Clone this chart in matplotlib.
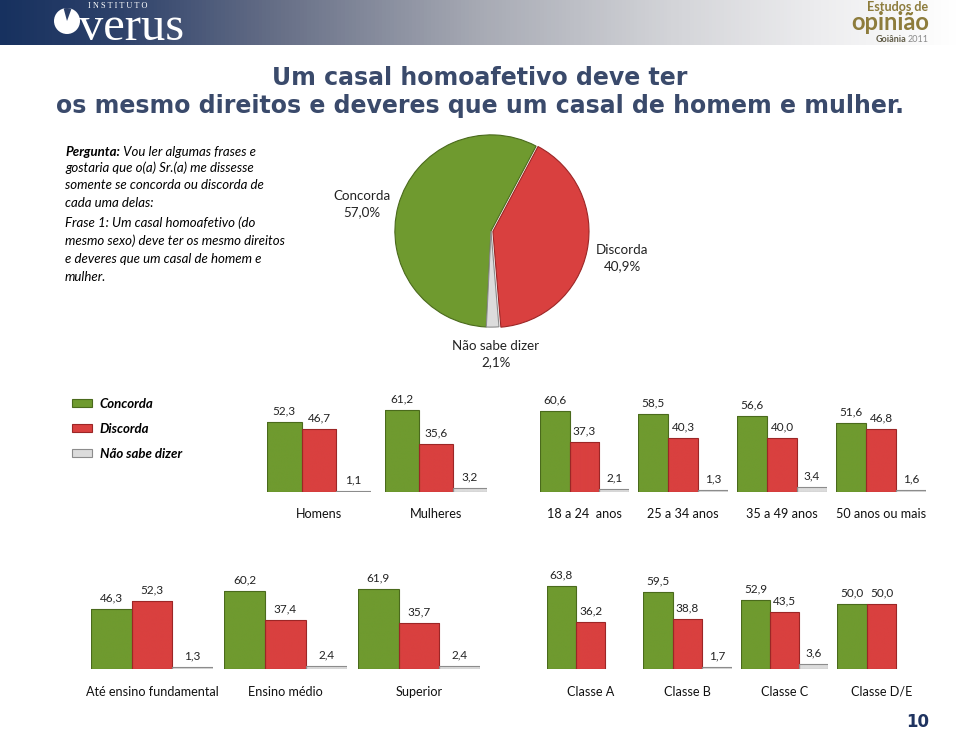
import numpy as np
import matplotlib
matplotlib.use('Agg')
import matplotlib.pyplot as plt
from matplotlib.colors import LinearSegmentedColormap
from matplotlib.patches import Patch, Circle, Wedge

plt.rcParams['font.family'] = ['Lato', 'DejaVu Sans']

# ---- dados ----
series = ['Concorda', 'Discorda', 'Não sabe dizer']
pie_vals = [57.0, 40.9, 2.1]

groups1 = ['Homens', 'Mulheres', '18 a 24  anos', '25 a 34 anos', '35 a 49 anos', '50 anos ou mais']
concorda1 = [52.3, 61.2, 60.6, 58.5, 56.6, 51.6]
discorda1 = [46.7, 35.6, 37.3, 40.3, 40.0, 46.8]
nsd1 = [1.1, 3.2, 2.1, 1.3, 3.4, 1.6]

groups2 = ['Até ensino fundamental', 'Ensino médio', 'Superior', 'Classe A', 'Classe B', 'Classe C', 'Classe D/E']
concorda2 = [46.3, 60.2, 61.9, 63.8, 59.5, 52.9, 50.0]
discorda2 = [52.3, 37.4, 35.7, 36.2, 38.8, 43.5, 50.0]
nsd2 = [1.3, 2.4, 2.4, 0.0, 1.7, 3.6, 0.0]

# ---- layout (pixels) ----
W, H = 960, 732
GREEN, RED, GREY = '#6f9a2f', '#d9403f', '#dcdcdc'
EDGES = ['#4a6a1c', '#9c2626', '#8c8c8c']
NAVY = '#3a4a6b'

# (left, right) of each small chart
row1_x = [(267, 371), (385, 487), (540, 629), (638, 728), (737, 827), (836, 926)]
row2_x = [(91, 213), (224, 347), (358, 480), (547, 634), (643, 732), (741, 828), (837, 926)]
row1_base, row1_scale = 492, 1.34
row2_base, row2_scale = 669, 1.30


def fmt(v):
    return f'{v:.1f}'.replace('.', ',')


fig = plt.figure(figsize=(W / 100, H / 100), dpi=100)
bg = fig.add_axes([0, 0, 1, 1])
bg.axis('off')

# header band
hdr = LinearSegmentedColormap.from_list(
    'hdr', [(0, '#17315f'), (0.12, '#2d416a'), (0.3, '#6a7289'), (0.5, '#a7aab4'),
            (0.7, '#d3d4d8'), (0.85, '#ececee'), (1, '#ffffff')])
bg.imshow(np.linspace(0, 1, 256)[None, :], cmap=hdr, extent=(0, W, 45, 0), aspect='auto')
bg.set_xlim(0, W)
bg.set_ylim(H, 0)
bg.add_patch(Circle((67, 21), 13, fc='white', ec='none'))
bg.add_patch(Wedge((67, 21), 13, 255, 290, fc='#2b3f68', ec='none'))
bg.text(88, 6, 'I N S T I T U T O', family='Liberation Serif', fontsize=6,
        color='white', va='center')
bg.text(79, 28, 'verus', family='Liberation Serif', fontsize=35, color='white', va='center')
bg.text(928, 7, 'Estudos de', fontsize=9, fontweight='bold', color='#8d7c3c',
        ha='right', va='center')
bg.text(929, 23, 'opinião', fontsize=17, fontweight='bold', color='#8d7c3c',
        ha='right', va='center')
bg.text(906, 40, 'Goiânia', fontsize=6.5, fontweight='bold', color='#5f5a45',
        ha='right', va='center')
bg.text(908, 40, '2011', fontsize=6.5, color='#8a8a8a', ha='left', va='center')

# title
bg.text(480, 78, 'Um casal homoafetivo deve ter', family='DejaVu Sans', fontsize=17.0,
        fontweight='bold', color=NAVY, ha='center', va='center')
bg.text(480, 106, 'os mesmo direitos e deveres que um casal de homem e mulher.',
        family='DejaVu Sans', fontsize=17.0, fontweight='bold', color=NAVY,
        ha='center', va='center')

# question text
t = bg.text(65, 152, 'Pergunta:', fontsize=9.5, fontweight='bold', style='italic', va='center')
bg.annotate(' Vou ler algumas frases e', xy=(1, 0.5), xycoords=t, fontsize=9.5,
            style='italic', va='center')
bg.text(65, 161, 'gostaria que o(a) Sr.(a) me dissesse\nsomente se concorda ou discorda de\ncada uma delas:',
        fontsize=9.5, style='italic', va='top', linespacing=1.58)
bg.text(65, 216, 'Frase 1: Um casal homoafetivo (do\nmesmo sexo) deve ter os mesmo direitos\ne deveres que um casal de homem e\nmulher.',
        fontsize=9.5, style='italic', va='top', linespacing=1.58)

# pie
pax = fig.add_axes([392 / W, 1 - 330 / H, 198 / W, 198 / H])
wedges, _ = pax.pie(pie_vals, colors=[GREEN, RED, GREY], startangle=267.2,
                    counterclock=False, explode=(0, 0.02, 0.0),
                    wedgeprops=dict(linewidth=0.8))
for w, ec in zip(wedges, EDGES):
    w.set_edgecolor(ec)
pax.set_xlim(-1.03, 1.03)
pax.set_ylim(-1.03, 1.03)
pie_lbl = [(362, 204), (622, 258), (496, 354)]
for (x, y), name, v in zip(pie_lbl, series, pie_vals):
    bg.text(x, y, f'{name}\n{fmt(v)}%', fontsize=9.6, ha='center', va='center',
            linespacing=1.5, color='#222222')

# legend
handles = [Patch(fc=c, ec=e, lw=0.8) for c, e in zip([GREEN, RED, GREY], EDGES)]
leg = fig.legend(handles, series, loc='upper left',
                 bbox_to_anchor=(60 / W, 1 - 386 / H), frameon=False,
                 prop=dict(size=9.5, weight='bold', style='italic'),
                 handlelength=1.5, handleheight=0.5, handletextpad=0.6,
                 labelspacing=0.98)


def shade(ax, rect, color):
    x, y = rect.get_x(), rect.get_y()
    w, h = rect.get_width(), rect.get_height()
    if h <= 0:
        return
    cmap = LinearSegmentedColormap.from_list('b', [(0, '#ffffff'), (0.08, color), (1, color)])
    im = ax.imshow(np.linspace(0, 1, 200)[:, None], cmap=cmap, vmin=-0.5, vmax=1,
                   extent=(x, x + w, y, y + h), origin='upper', aspect='auto',
                   zorder=2, interpolation='bilinear')
    im.set_clip_path(rect)


def small_chart(xr, base, scale, name, vals, label_y):
    left, right = xr
    top = base - 105
    ax = fig.add_axes([left / W, 1 - base / H, (right - left) / W, (base - top) / H])
    ymax = (base - top) / scale
    bars = ax.bar(range(3), vals, width=1.0, color=[GREEN, RED, GREY],
                  edgecolor=EDGES, linewidth=0.8, zorder=3)
    for b, v, c in zip(bars, vals, [GREEN, RED, GREY]):
        if v <= 0:
            b.set_visible(False)
            continue
        b.set_facecolor('none')
        shade(ax, b, c)
        ax.annotate(fmt(v), (b.get_x() + 0.5, v), xytext=(0, 4),
                    textcoords='offset points', ha='center', va='bottom',
                    fontsize=8.5, color='#222222')
    ax.set_xlim(-0.5, 2.5)
    ax.set_ylim(0, ymax)
    ax.axis('off')
    bg.text((left + right) / 2, label_y, name, fontsize=9.1, ha='center',
            va='center', color='#111111')


for xr, name, c, d, n in zip(row1_x, groups1, concorda1, discorda1, nsd1):
    small_chart(xr, row1_base, row1_scale, name, [c, d, n], 514)
for xr, name, c, d, n in zip(row2_x, groups2, concorda2, discorda2, nsd2):
    small_chart(xr, row2_base, row2_scale, name, [c, d, n], 692)

bg.text(918, 722, '10', family='DejaVu Sans', fontsize=12, fontweight='bold',
        color='#1f3360', ha='center', va='center')

fig.savefig('out.png', dpi=100)
